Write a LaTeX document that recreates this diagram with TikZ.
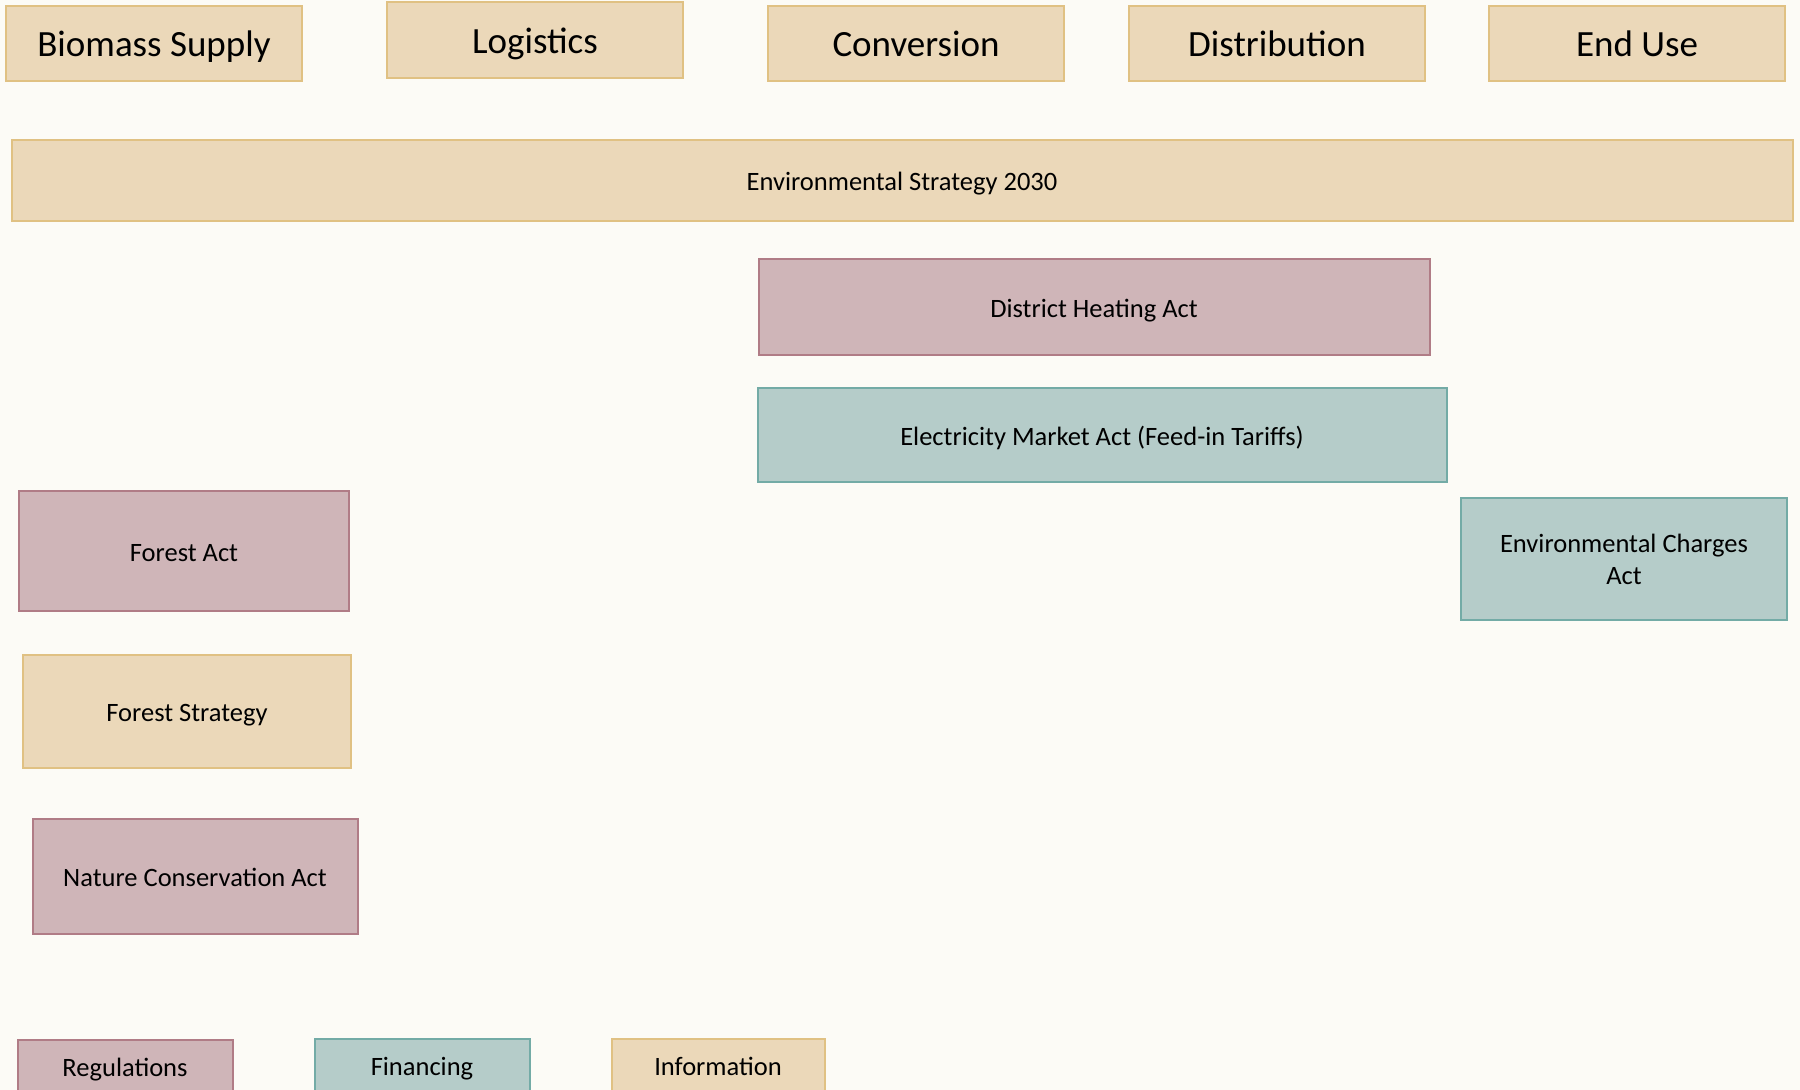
\documentclass[tikz,border=0pt]{standalone}
\usepackage{fontspec}
\setmainfont{Carlito}
\definecolor{bgc}{HTML}{FCFBF6}
\definecolor{tanf}{HTML}{EBD8B9}
\definecolor{tand}{HTML}{E0C183}
\definecolor{pinkf}{HTML}{CFB5B8}
\definecolor{pinkd}{HTML}{B07C86}
\definecolor{tealf}{HTML}{B5CCC9}
\definecolor{teald}{HTML}{73ABA6}
\tikzset{
  box/.style={rectangle, line width=2pt, inner sep=0pt, align=center, text=black},
  tanbox/.style={box, fill=tanf, draw=tand},
  pinkbox/.style={box, fill=pinkf, draw=pinkd},
  tealbox/.style={box, fill=tealf, draw=teald},
  head/.style={tanbox, text height=26.2pt, text depth=0pt, minimum width=296pt, minimum height=75pt, font=\fontsize{37}{44}\selectfont},
  body/.style={font=\fontsize{26.5}{32}\selectfont},
  oneline/.style={text height=20.5pt, text depth=0pt},
  legend/.style={body, text height=15pt, text depth=0pt, minimum height=58pt},
}
\begin{document}
\begin{tikzpicture}[x=1pt,y=-1pt]
\useasboundingbox (0,0) rectangle (1800,1090);
\fill[bgc] (0,0) rectangle (1800,1090);
\begin{scope}
\clip (0,0) rectangle (1800,1090);
\node[head] (bio) at (154,43) {Biomass Supply};
\node[head, minimum height=76pt] (log) at (535,40) {Logistics};
\node[head] (conv) at (916,43) {Conversion};
\node[head] (dist) at (1277,43) {Distribution};
\node[head] (enduse) at (1637,43) {End Use};
\node[tanbox, body, oneline, minimum width=1781pt, minimum height=81pt] (env) at (902,180) {Environmental Strategy 2030};
\node[pinkbox, body, oneline, minimum width=671pt, minimum height=96pt] (dha) at (1094,307) {District Heating Act};
\node[tealbox, body, oneline, minimum width=689pt, minimum height=94pt] (ema) at (1102,435) {Electricity Market Act (Feed-in Tariffs)};
\node[tealbox, body, minimum width=326pt, minimum height=122pt] (eca) at (1624,559) {Environmental Charges\\Act};
\node[pinkbox, body, oneline, minimum width=330pt, minimum height=120pt] (fa) at (184,551) {Forest Act};
\node[tanbox, body, oneline, minimum width=328pt, minimum height=113pt] (fs) at (187,711) {Forest Strategy};
\node[pinkbox, body, oneline, minimum width=325pt, minimum height=115pt] (nca) at (195,876) {Nature Conservation Act};
\node[pinkbox, legend, minimum width=215pt] (reg) at (125,1069) {Regulations};
\node[tealbox, legend, minimum width=215pt] (fin) at (422,1068) {Financing};
\node[tanbox, legend, minimum width=213pt] (inf) at (718,1068) {Information};
\end{scope}
\end{tikzpicture}
\end{document}
